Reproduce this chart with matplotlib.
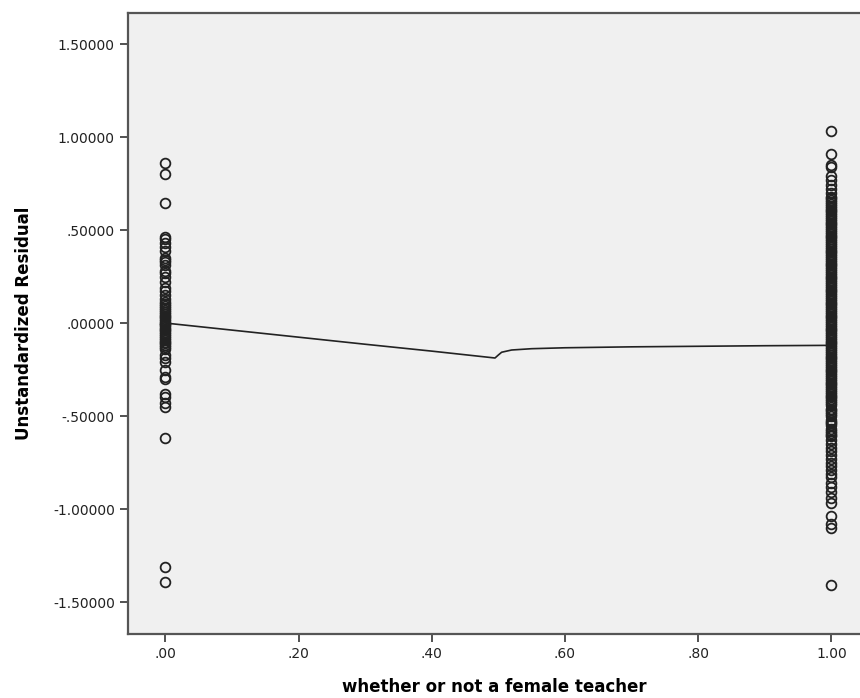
import numpy as np
import matplotlib
matplotlib.use('Agg')
import matplotlib.pyplot as plt

# residuals for male teachers (x = 0)
resid_male = [0.86, 0.80, 0.645, 0.46, 0.45, 0.43, 0.41, 0.39, 0.35, 0.34, 0.33, 0.31,
              0.28, 0.27, 0.25, 0.22, 0.19, 0.17, 0.15, 0.13, 0.115, 0.10, 0.09, 0.08,
              0.07, 0.06, 0.05, 0.04, 0.03, 0.02, 0.01, 0.00, -0.005, -0.01, -0.02,
              -0.03, -0.04, -0.05, -0.06, -0.07, -0.08, -0.09, -0.10, -0.11, -0.12,
              -0.13, -0.14, -0.17, -0.19, -0.21, -0.25, -0.29, -0.30, -0.38,
              -0.40, -0.43, -0.45, -0.62, -1.31, -1.39]

# residuals for female teachers (x = 1)
resid_female = [1.03, 0.91, 0.85, 0.84, 0.79, 0.77, 0.74, 0.72, 0.70, 0.68, 0.67, 0.66,
                0.65, 0.64, 0.63, 0.62, 0.61, 0.60, 0.59, 0.58, 0.57, 0.56, 0.55, 0.54,
                0.53, 0.52, 0.51, 0.50, 0.49, 0.48, 0.47, 0.46, 0.45, 0.44, 0.43, 0.42,
                0.41, 0.40, 0.39, 0.38, 0.37, 0.36, 0.35, 0.34, 0.33, 0.32, 0.31, 0.30,
                0.29, 0.28, 0.27, 0.26, 0.25, 0.24, 0.23, 0.22, 0.21, 0.20, 0.19, 0.18,
                0.17, 0.16, 0.15, 0.14, 0.13, 0.12, 0.11, 0.10, 0.09, 0.08, 0.07, 0.06,
                0.05, 0.04, 0.03, 0.02, 0.01, 0.00, -0.01, -0.02, -0.03, -0.04, -0.05,
                -0.06, -0.07, -0.08, -0.09, -0.10, -0.11, -0.12, -0.13, -0.14, -0.15,
                -0.16, -0.17, -0.18, -0.19, -0.20, -0.21, -0.22, -0.23, -0.24, -0.25,
                -0.26, -0.27, -0.28, -0.29, -0.30, -0.31, -0.32, -0.33, -0.34, -0.35,
                -0.36, -0.37, -0.38, -0.39, -0.40, -0.41, -0.42, -0.43, -0.44, -0.46,
                -0.47, -0.48, -0.49, -0.50, -0.52, -0.53, -0.54, -0.55, -0.57, -0.58,
                -0.59, -0.60, -0.61, -0.63, -0.65, -0.67, -0.69, -0.71, -0.73, -0.75,
                -0.77, -0.79, -0.81, -0.83, -0.86, -0.88, -0.91, -0.94, -0.97, -1.04,
                -1.08, -1.10, -1.41]

# loess fit line
fit_x = [0.0, 0.1, 0.2, 0.3, 0.4, 0.495, 0.50, 0.505, 0.52, 0.55, 0.6, 0.7, 0.8, 0.9, 1.0]
fit_y = [0.0, -0.038, -0.076, -0.114, -0.151, -0.188, -0.172, -0.157, -0.145, -0.138,
         -0.133, -0.128, -0.125, -0.122, -0.12]

xticks = [0.0, 0.2, 0.4, 0.6, 0.8, 1.0]
xticklabels = ['.00', '.20', '.40', '.60', '.80', '1.00']
yticks = [-1.5, -1.0, -0.5, 0.0, 0.5, 1.0, 1.5]
yticklabels = ['-1.50000', '-1.00000', '-.50000', '.00000', '.50000', '1.00000', '1.50000']

fig = plt.figure(figsize=(8.6, 6.98), dpi=100)
ax = fig.add_axes([128/860, 1-634/698, 1-128/860, (634-13)/698])
ax.set_facecolor('#f0f0f0')

ax.plot(np.zeros(len(resid_male)), resid_male, 'o', mfc='none', mec='#222222', ms=7, mew=1.3)
ax.plot(np.ones(len(resid_female)), resid_female, 'o', mfc='none', mec='#222222', ms=7, mew=1.3)
ax.plot(fit_x, fit_y, color='#222222', lw=1.2)

ax.set_xlim(-0.056, 1.043)
ax.set_ylim(-1.672, 1.667)
ax.set_xticks(xticks)
ax.set_xticklabels(xticklabels)
ax.set_yticks(yticks)
ax.set_yticklabels(yticklabels)
ax.tick_params(axis='both', labelsize=10, length=6, width=1.2, color='#333333', labelcolor='#222222')

for s in ['left', 'bottom', 'top']:
    ax.spines[s].set_color('#555555')
    ax.spines[s].set_linewidth(1.6)
ax.spines['right'].set_visible(False)

ax.set_xlabel('whether or not a female teacher', fontsize=12, fontweight='bold', labelpad=12)
ax.set_ylabel('Unstandardized Residual', fontsize=12, fontweight='bold', labelpad=14)

fig.savefig('out.png', dpi=100)
